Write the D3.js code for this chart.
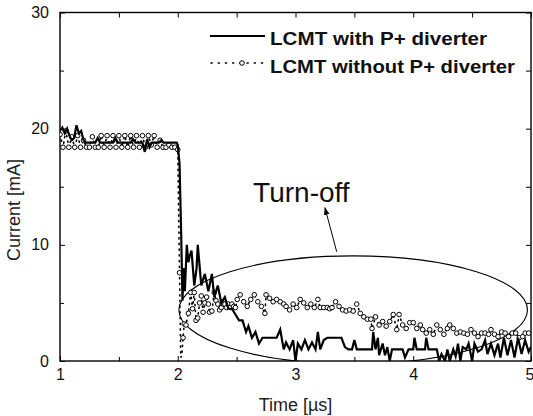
<!DOCTYPE html>
<html><head><meta charset="utf-8">
<script src="https://cdn.jsdelivr.net/npm/d3@7"></script>
<style>
html,body{margin:0;padding:0;background:#fff;}
svg{display:block;font-family:"Liberation Sans",Arial,sans-serif;}
</style></head>
<body><svg id="c" width="533" height="416"></svg>
<script>
const xDomain = [1, 5];
const yDomain = [0, 30];
const xTickLabels = [1, 2, 3, 4, 5];
const xMinorTicks = [1.5, 2.5, 3.5, 4.5];
const yTickLabels = [0, 10, 20, 30];
const yMinorTicks = [5, 15, 25];
const seriesNames = ["LCMT with P+ diverter", "LCMT without P+ diverter"];

// [time µs, current mA]
const withDiverter = [[1.00,19.8],[1.02,20.1],[1.04,19.6],[1.06,20.0],[1.08,19.4],[1.10,19.0],[1.12,19.2],[1.14,20.3],[1.16,19.6],[1.18,19.8],[1.20,19.0],[1.22,18.8],[1.26,18.8],[1.30,18.8],[1.32,19.2],[1.34,18.8],[1.40,18.8],[1.45,18.8],[1.47,19.2],[1.49,18.8],[1.56,18.8],[1.60,18.8],[1.62,19.1],[1.64,18.8],[1.70,18.8],[1.72,18.0],[1.74,19.1],[1.76,18.4],[1.78,18.8],[1.84,18.8],[1.86,19.0],[1.88,18.8],[1.95,18.8],[1.99,18.8],[2.00,18.6],[2.015,17.0],[2.03,10.5],[2.04,5.2],[2.05,8.0],[2.06,6.0],[2.077,10.0],[2.09,8.5],[2.10,9.0],[2.117,9.5],[2.14,6.5],[2.16,8.0],[2.17,10.0],[2.20,6.5],[2.23,7.5],[2.26,6.0],[2.29,7.5],[2.31,5.5],[2.34,6.5],[2.37,5.0],[2.40,5.5],[2.43,4.5],[2.46,4.5],[2.49,4.0],[2.52,3.5],[2.55,3.5],[2.58,2.5],[2.60,3.0],[2.63,2.0],[2.66,2.5],[2.69,1.5],[2.72,2.0],[2.81,2.0],[2.84,2.0],[2.87,2.7],[2.90,1.0],[2.92,1.6],[2.95,1.0],[2.98,1.8],[3.00,0.0],[3.02,1.5],[3.05,1.0],[3.08,1.8],[3.11,1.0],[3.14,1.6],[3.17,1.0],[3.19,2.5],[3.21,1.0],[3.24,1.8],[3.27,2.0],[3.30,2.0],[3.39,2.0],[3.42,1.2],[3.45,1.0],[3.48,1.0],[3.50,1.8],[3.52,1.0],[3.60,1.0],[3.65,1.0],[3.66,2.5],[3.68,1.0],[3.70,2.0],[3.71,0.5],[3.74,1.5],[3.76,0.5],[3.78,1.2],[3.80,0.0],[3.82,1.0],[3.91,1.0],[3.93,0.3],[3.96,1.0],[4.00,1.0],[4.01,2.0],[4.03,1.0],[4.10,1.0],[4.11,2.0],[4.13,1.0],[4.20,1.0],[4.22,0.0],[4.24,0.6],[4.27,0.0],[4.29,1.0],[4.31,0.0],[4.34,1.0],[4.36,0.4],[4.38,1.5],[4.40,0.0],[4.42,1.2],[4.45,1.0],[4.47,1.5],[4.50,0.0],[4.52,1.5],[4.55,0.8],[4.58,1.0],[4.61,1.8],[4.63,0.6],[4.66,1.5],[4.69,0.5],[4.72,1.5],[4.74,0.3],[4.77,2.0],[4.80,0.5],[4.83,1.8],[4.86,0.3],[4.89,2.0],[4.92,0.6],[4.95,1.8],[4.98,0.8],[5.00,1.2]];

const withoutDiverter = [[1.00,19.5],[1.025,18.4],[1.05,19.8],[1.075,18.4],[1.10,19.3],[1.125,18.4],[1.15,19.4],[1.175,18.4],[1.20,19.0],[1.225,18.4],[1.25,18.4],[1.275,19.3],[1.30,18.4],[1.325,18.4],[1.35,19.4],[1.375,18.4],[1.40,19.4],[1.425,18.4],[1.45,19.4],[1.475,18.4],[1.50,19.4],[1.525,18.4],[1.55,19.4],[1.575,18.4],[1.60,19.4],[1.625,18.4],[1.65,19.4],[1.675,18.4],[1.70,19.4],[1.725,18.4],[1.75,19.4],[1.775,18.6],[1.80,19.4],[1.825,18.4],[1.85,19.0],[1.875,18.4],[1.90,18.4],[1.925,18.6],[1.95,18.4],[1.975,18.4],[2.00,18.2],[2.015,7.6],[2.025,0.3],[2.035,0.5],[2.045,2.0],[2.055,3.2],[2.07,3.1],[2.09,4.1],[2.11,5.9],[2.125,4.5],[2.14,5.9],[2.155,3.5],[2.17,3.7],[2.185,5.0],[2.20,5.6],[2.215,4.2],[2.23,5.0],[2.245,5.5],[2.26,4.9],[2.27,4.2],[2.29,4.3],[2.31,5.9],[2.325,5.2],[2.34,4.9],[2.355,4.4],[2.37,4.6],[2.385,4.9],[2.40,4.9],[2.415,4.6],[2.43,4.9],[2.445,4.6],[2.46,4.9],[2.475,4.7],[2.49,4.6],[2.505,5.3],[2.53,5.7],[2.56,5.1],[2.59,4.7],[2.62,5.3],[2.65,5.7],[2.68,5.1],[2.71,4.7],[2.74,4.1],[2.75,5.7],[2.78,5.4],[2.81,5.1],[2.84,5.3],[2.87,5.1],[2.90,4.9],[2.92,4.7],[2.95,4.4],[2.98,4.9],[3.01,4.6],[3.04,5.3],[3.07,5.0],[3.10,4.6],[3.13,4.9],[3.16,4.6],[3.19,5.3],[3.21,4.6],[3.24,4.6],[3.27,4.6],[3.29,4.5],[3.31,4.6],[3.34,5.1],[3.37,4.7],[3.40,4.4],[3.43,4.3],[3.46,4.4],[3.49,4.3],[3.52,4.9],[3.55,4.1],[3.58,3.8],[3.61,3.6],[3.64,3.6],[3.65,2.8],[3.68,3.8],[3.71,3.1],[3.74,3.4],[3.77,3.0],[3.80,3.4],[3.83,4.0],[3.86,2.7],[3.88,4.0],[3.91,3.1],[3.94,2.8],[3.97,3.3],[4.00,3.3],[4.03,2.8],[4.06,3.1],[4.08,2.7],[4.11,2.4],[4.14,2.7],[4.17,2.3],[4.20,3.1],[4.23,2.7],[4.26,2.3],[4.29,2.8],[4.31,3.1],[4.34,2.8],[4.37,2.4],[4.40,2.5],[4.43,2.4],[4.46,2.3],[4.49,2.7],[4.52,2.4],[4.55,2.1],[4.58,2.4],[4.61,2.4],[4.64,2.3],[4.66,2.7],[4.69,2.3],[4.72,2.1],[4.75,2.5],[4.78,2.4],[4.81,2.1],[4.84,2.4],[4.87,2.4],[4.90,2.0],[4.93,2.1],[4.95,2.4],[4.98,2.4]];

// annotation (data coords): ellipse centre/radii, arrow from->to, label anchor
const ellipseCenter = [3.49, 4.4];
const ellipseRadii = [1.48, 4.65];
const arrowFrom = [3.35, 9.4];
const arrowTo = [3.25, 13.2];
const annotationText = "Turn-off";
const annotationAt = [2.64, 13.7];

const W = 533, H = 416;
const m = {l: 60, r: 2, t: 12.5, b: 55};
const svg = d3.select("#c");
const x = d3.scaleLinear().domain(xDomain).range([m.l, W - m.r]);
const y = d3.scaleLinear().domain(yDomain).range([H - m.b, m.t]);
const x0 = x.range()[0], x1 = x.range()[1], y0 = y.range()[0], y1 = y.range()[1];

svg.append("defs").append("clipPath").attr("id", "clip")
  .append("rect").attr("x", x0).attr("y", y1).attr("width", x1 - x0).attr("height", y0 - y1);

// axes with inward ticks
function styleAxis(g) {
  g.select(".domain").remove();
  g.selectAll("line").attr("stroke", "#000").attr("stroke-width", 1);
  g.selectAll("text").attr("fill", "#111").style("font-size", "16px").style("font-family", '"Liberation Sans",Arial,sans-serif');
}
const xAxisG = svg.append("g").attr("transform", `translate(0,${y0})`)
  .call(d3.axisBottom(x).tickValues(xTickLabels).tickFormat(d3.format("d")).tickSizeInner(-5).tickSizeOuter(0).tickPadding(8)).call(styleAxis);
// keep the last label inside the window, as in the reference
xAxisG.selectAll(".tick text").filter(d => d === xDomain[1]).attr("text-anchor", "end").attr("dx", "3");
svg.append("g").attr("transform", `translate(0,${y0})`)
  .call(d3.axisBottom(x).tickValues(xMinorTicks).tickFormat("").tickSizeInner(-4).tickSizeOuter(0)).call(styleAxis);
svg.append("g").attr("transform", `translate(0,${y1})`)
  .call(d3.axisTop(x).tickValues(xTickLabels.concat(xMinorTicks)).tickFormat("").tickSizeInner(-5).tickSizeOuter(0)).call(styleAxis);
svg.append("g").attr("transform", `translate(${x0},0)`)
  .call(d3.axisLeft(y).tickValues(yTickLabels).tickFormat(d3.format("d")).tickSizeInner(-5).tickSizeOuter(0).tickPadding(11)).call(styleAxis);
svg.append("g").attr("transform", `translate(${x0},0)`)
  .call(d3.axisLeft(y).tickValues(yMinorTicks).tickFormat("").tickSizeInner(-4).tickSizeOuter(0)).call(styleAxis);
svg.append("g").attr("transform", `translate(${x1},0)`)
  .call(d3.axisRight(y).tickValues(yTickLabels.concat(yMinorTicks)).tickFormat("").tickSizeInner(-5).tickSizeOuter(0)).call(styleAxis);

// plot frame
svg.append("rect").attr("x", x0).attr("y", y1).attr("width", x1 - x0).attr("height", y0 - y1)
  .attr("fill", "none").attr("stroke", "#000").attr("stroke-width", 1.4);

const plot = svg.append("g").attr("clip-path", "url(#clip)");

// ellipse annotation
plot.append("ellipse")
  .attr("cx", x(ellipseCenter[0])).attr("cy", y(ellipseCenter[1]))
  .attr("rx", x(xDomain[0] + ellipseRadii[0]) - x(xDomain[0]))
  .attr("ry", y(0) - y(ellipseRadii[1]))
  .attr("fill", "none").attr("stroke", "#000").attr("stroke-width", 1.1);

const line = d3.line().x(d => x(d[0])).y(d => y(d[1]));

// without diverter: dotted + circles
plot.append("path").datum(withoutDiverter).attr("d", line)
  .attr("fill", "none").attr("stroke", "#000").attr("stroke-width", 1.6)
  .attr("stroke-dasharray", "1.2,4.5").attr("stroke-linecap", "round");
plot.selectAll("circle.wo").data(withoutDiverter.filter(d => d[1] > 1.5)).enter().append("circle")
  .attr("class", "wo").attr("cx", d => x(d[0])).attr("cy", d => y(d[1])).attr("r", 2.3)
  .attr("fill", "#fff").attr("stroke", "#000").attr("stroke-width", 1);

// with diverter: solid
plot.append("path").datum(withDiverter).attr("d", line)
  .attr("fill", "none").attr("stroke", "#000").attr("stroke-width", 2.2).attr("stroke-linejoin", "miter");

// arrow
svg.append("defs").append("marker").attr("id", "ah").attr("viewBox", "0 0 10 10")
  .attr("refX", 9).attr("refY", 5).attr("markerWidth", 8).attr("markerHeight", 8)
  .attr("orient", "auto").attr("markerUnits", "userSpaceOnUse")
  .append("path").attr("d", "M0,1.5 L10,5 L0,8.5 Z").attr("fill", "#000");
svg.append("line")
  .attr("x1", x(arrowFrom[0])).attr("y1", y(arrowFrom[1]))
  .attr("x2", x(arrowTo[0])).attr("y2", y(arrowTo[1]))
  .attr("stroke", "#000").attr("stroke-width", 1).attr("marker-end", "url(#ah)");
svg.append("text").attr("x", x(annotationAt[0])).attr("y", y(annotationAt[1]))
  .style("font-size", "28px").attr("fill", "#111").text(annotationText);

// legend
const lg = svg.append("g");
lg.append("line").attr("x1", 210).attr("x2", 265).attr("y1", 36).attr("y2", 36)
  .attr("stroke", "#000").attr("stroke-width", 2.2);
lg.append("text").attr("x", 270).attr("y", 45).attr("textLength", 217).attr("lengthAdjust", "spacingAndGlyphs")
  .style("font-size", "18px").style("font-weight", "bold").attr("fill", "#111").text(seriesNames[0]);
lg.append("line").attr("x1", 211).attr("x2", 265).attr("y1", 63).attr("y2", 63)
  .attr("stroke", "#000").attr("stroke-width", 1.5).attr("stroke-dasharray", "1.2,6").attr("stroke-linecap", "round");
lg.append("circle").attr("cx", 242).attr("cy", 63).attr("r", 2.3)
  .attr("fill", "#fff").attr("stroke", "#000").attr("stroke-width", 1);
lg.append("text").attr("x", 270).attr("y", 73).attr("textLength", 245).attr("lengthAdjust", "spacingAndGlyphs")
  .style("font-size", "18px").style("font-weight", "bold").attr("fill", "#111").text(seriesNames[1]);

// axis titles
svg.append("text").attr("x", (x0 + x1) / 2).attr("y", 405).attr("text-anchor", "middle")
  .attr("dominant-baseline", "central").style("font-size", "18px").attr("fill", "#222").text("Time [µs]");
svg.append("text").attr("transform", "translate(14,210) rotate(-90)").attr("text-anchor", "middle")
  .attr("dominant-baseline", "central").style("font-size", "18px").attr("fill", "#222").text("Current [mA]");
</script></body></html>
